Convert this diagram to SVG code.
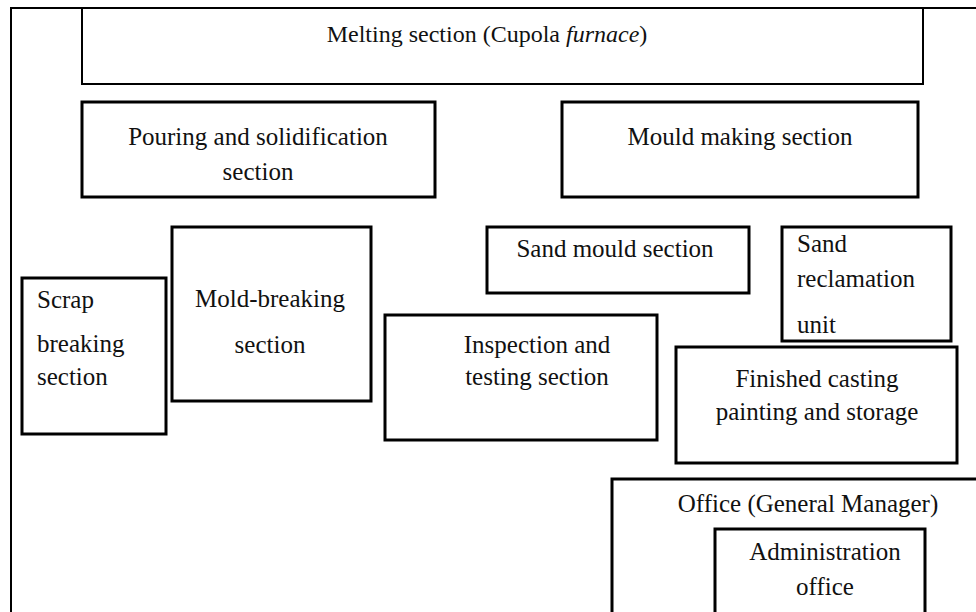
<svg xmlns="http://www.w3.org/2000/svg" width="976" height="612" viewBox="0 0 976 612">
<style>
.box{fill:none;stroke:#000;stroke-width:3}
.thin{fill:none;stroke:#000;stroke-width:2}
text{font-family:"Liberation Serif","Times New Roman",serif;font-size:25px;fill:#111}
.c{text-anchor:middle}
</style>
<rect width="976" height="612" fill="#fff"/>
<g id="frame">
<polyline class="thin" points="11,612 11,8 82,8"/>
<line class="thin" x1="923" y1="8" x2="976" y2="8"/>
</g>
<g id="melting">
<polyline class="thin" points="82,8 82,84 923,84 923,8 82,8"/>
<text x="487" y="42" class="c" style="font-size:24px">Melting section (Cupola <tspan font-style="italic">furnace</tspan>)</text>
</g>
<g id="pouring">
<rect class="box" x="82" y="102" width="353" height="95"/>
<text x="258" y="145" class="c">Pouring and solidification</text>
<text x="258" y="180" class="c">section</text>
</g>
<g id="mould-making">
<rect class="box" x="562" y="102" width="356" height="95"/>
<text x="740" y="145" class="c">Mould making section</text>
</g>
<g id="scrap">
<rect class="box" x="22" y="278" width="144" height="156"/>
<text x="37" y="308">Scrap</text>
<text x="37" y="352">breaking</text>
<text x="37" y="385">section</text>
</g>
<g id="mold-breaking">
<rect class="box" x="172" y="227" width="199" height="174"/>
<text x="270" y="307" class="c">Mold-breaking</text>
<text x="270" y="353" class="c">section</text>
</g>
<g id="sand-mould">
<rect class="box" x="487" y="227" width="262" height="66"/>
<text x="615" y="257" class="c">Sand mould section</text>
</g>
<g id="sand-reclamation">
<rect class="box" x="782" y="227" width="169" height="114"/>
<text x="797" y="252">Sand</text>
<text x="797" y="287">reclamation</text>
<text x="797" y="333">unit</text>
</g>
<g id="inspection">
<rect class="box" x="385" y="315" width="272" height="125"/>
<text x="537" y="353" class="c">Inspection and</text>
<text x="537" y="385" class="c">testing section</text>
</g>
<g id="finished">
<rect class="box" x="676" y="347" width="281" height="116"/>
<text x="817" y="387" class="c">Finished casting</text>
<text x="817" y="420" class="c">painting and storage</text>
</g>
<g id="office">
<polyline class="box" points="612,614 612,479 978,479"/>
<text x="808" y="512" class="c">Office (General Manager)</text>
</g>
<g id="admin">
<polyline class="box" points="715,614 715,529 925,529 925,614"/>
<text x="825" y="560" class="c">Administration</text>
<text x="825" y="595" class="c">office</text>
</g>
<g id="connectors"/>
</svg>
